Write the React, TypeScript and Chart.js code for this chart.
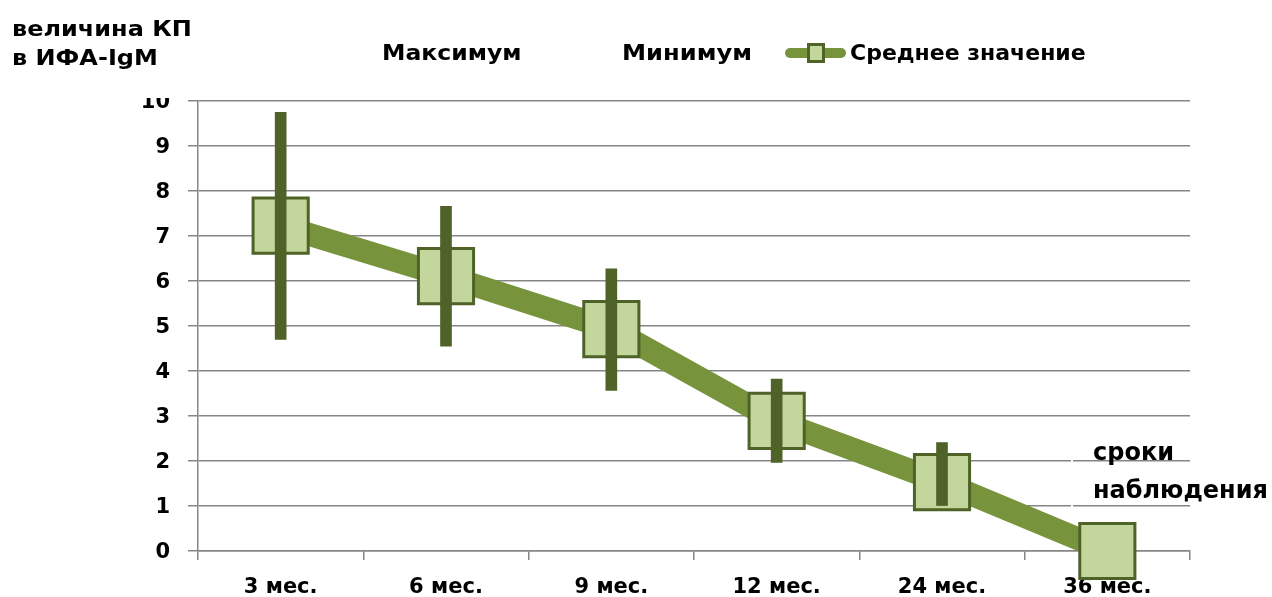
import React, { useEffect, useRef } from "react";
import { Chart, registerables } from "chart.js";

Chart.register(...registerables);

const categories = ["3 мес.", "6 мес.", "9 мес.", "12 мес.", "24 мес.", "36 мес."];
const maxValues: (number | null)[] = [9.75, 7.66, 6.27, 3.82, 2.41, null];
const minValues: (number | null)[] = [4.7, 4.55, 3.57, 1.97, 1.01, null];
const meanValues: number[] = [7.23, 6.11, 4.93, 2.89, 1.53, 0];
const seriesNames = ["Максимум", "Минимум", "Среднее значение"];
const yTitleLines = ["величина КП", "в ИФА-IgM"];
const xTitleLines = ["сроки", "наблюдения"];
const yMin = 0;
const yMax = 10;
const yStep = 1;

const FONT = "'DejaVu Sans', sans-serif";
const LINE_GREEN = "#77933c";
const DARK_GREEN = "#4f6228";
const LIGHT_GREEN = "#c3d69b";
const GRID = "#868686";

export default function App() {
  const canvasRef = useRef<HTMLCanvasElement | null>(null);

  useEffect(() => {
    const canvas = canvasRef.current;
    if (!canvas) return;
    const rangeData = maxValues.map((mx, i) => {
      const mn = minValues[i];
      return mx == null || mn == null ? null : [mn, mx];
    });
    const chart = new Chart(canvas, {
      type: "bar",
      data: {
        labels: categories,
        datasets: [
          {
            type: "bar",
            label: seriesNames[0] + " / " + seriesNames[1],
            data: rangeData as any,
            backgroundColor: DARK_GREEN,
            borderWidth: 0,
            barThickness: 11,
            grouped: false,
            order: 0,
          } as any,
          {
            type: "line",
            label: seriesNames[2],
            data: meanValues,
            borderColor: LINE_GREEN,
            borderWidth: 23,
            borderCapStyle: "butt",
            borderJoinStyle: "round",
            pointStyle: "rect",
            pointRadius: 39,
            pointBackgroundColor: LIGHT_GREEN,
            pointBorderColor: DARK_GREEN,
            pointBorderWidth: 3,
            tension: 0,
            clip: false,
            order: 1,
          } as any,
        ],
      },
      options: {
        responsive: false,
        animation: false,
        events: [],
        layout: { padding: { top: 101, right: 82, bottom: 0, left: 0 } },
        plugins: {
          legend: { display: false },
          tooltip: { enabled: false },
          title: { display: false },
        },
        scales: {
          x: {
            offset: true,
            grid: {
              offset: true,
              drawOnChartArea: false,
              drawTicks: true,
              tickLength: 9,
              color: GRID,
              lineWidth: 1.5,
            },
            border: { display: true, color: GRID, width: 1.5 },
            ticks: {
              color: "#000",
              font: { family: FONT, size: 21, weight: "bold" },
              padding: 15,
              maxRotation: 0,
              autoSkip: false,
            },
            afterFit: (s: any) => {
              s.height = 46;
            },
          },
          y: {
            min: yMin,
            max: yMax,
            grid: { color: GRID, lineWidth: 1.5, tickLength: 10, drawTicks: true },
            border: { display: true, color: GRID, width: 1.5 },
            ticks: {
              stepSize: yStep,
              color: "#000",
              font: { family: FONT, size: 21, weight: "bold" },
              padding: 18,
              labelOffset: 2,
            },
            afterFit: (s: any) => {
              s.width = 198;
            },
          },
        },
      } as any,
    });
    return () => chart.destroy();
  }, []);

  const textStyle: React.CSSProperties = {
    position: "absolute",
    fontFamily: FONT,
    fontWeight: "bold",
    color: "#000",
    whiteSpace: "nowrap",
  };

  const legendLefts = [382, 622, 850];

  return (
    <div
      style={{
        position: "fixed",
        left: 0,
        top: 0,
        width: 1272,
        height: 597,
        background: "#fff",
        overflow: "hidden",
      }}
    >
      <canvas ref={canvasRef} width={1272} height={597} style={{ position: "absolute", left: 0, top: 0 }} />
      {/* cover upper part of top tick label, as in the reference */}
      <div style={{ position: "absolute", left: 120, top: 80, width: 66, height: 18, background: "#fff" }} />
      {/* small break of gridlines at the left edge of the axis-title box */}
      <div style={{ position: "absolute", left: 1071, top: 440, width: 2, height: 72, background: "#fff" }} />
      <div
        style={{
          ...textStyle,
          left: 12,
          top: 14,
          fontSize: 22,
          lineHeight: "29px",
          transform: "scaleX(1.09)",
          transformOrigin: "left top",
        }}
      >
        {yTitleLines.map((t) => (
          <div key={t}>{t}</div>
        ))}
      </div>
      <div style={{ ...textStyle, left: 1093, top: 433, fontSize: 24, lineHeight: "38px" }}>
        {xTitleLines.map((t) => (
          <div key={t}>{t}</div>
        ))}
      </div>
      {seriesNames.map((name, i) => (
        <div
          key={name}
          style={{
            ...textStyle,
            left: legendLefts[i],
            top: 38,
            fontSize: 22,
            lineHeight: "30px",
            transform: i === 0 ? "scaleX(1.07)" : i === 1 ? "scaleX(1.1)" : "none",
            transformOrigin: "left top",
          }}
        >
          {name}
        </div>
      ))}
      <div style={{ position: "absolute", left: 785, top: 48, width: 61, height: 10, borderRadius: 5, background: LINE_GREEN }} />
      <div
        style={{
          position: "absolute",
          left: 807,
          top: 43,
          width: 18,
          height: 20,
          boxSizing: "border-box",
          border: "3px solid " + DARK_GREEN,
          background: LIGHT_GREEN,
        }}
      />
    </div>
  );
}
